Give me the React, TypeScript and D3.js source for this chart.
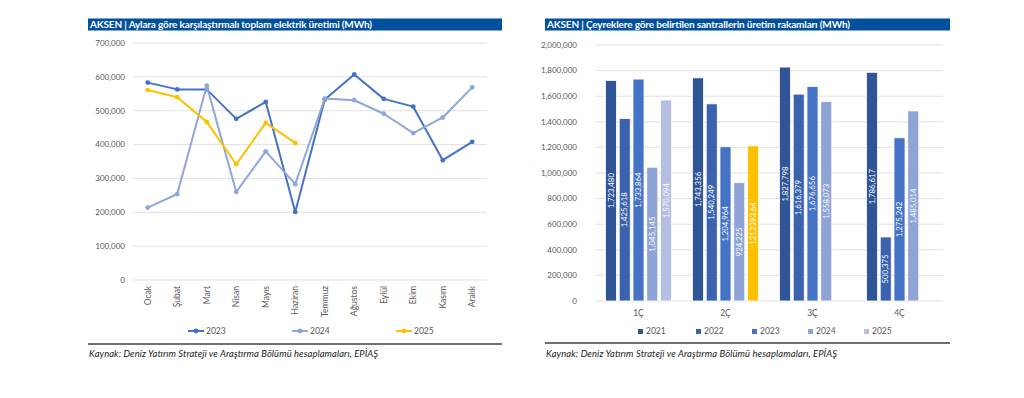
import React from 'react';
import * as d3 from 'd3';

const months = ['Ocak', 'Şubat', 'Mart', 'Nisan', 'Mayıs', 'Haziran', 'Temmuz', 'Ağustos', 'Eylül', 'Ekim', 'Kasım', 'Aralık'];
const prod2023 = [583000, 563000, 563000, 476000, 526000, 201000, 533000, 607000, 535000, 512000, 354000, 408000];
const prod2024 = [214000, 254000, 574000, 260000, 380000, 283000, 536000, 531000, 491000, 434000, 480000, 569000];
const prod2025 = [561000, 540000, 467000, 342000, 464000, 405000];
const lineYTicks = [0, 100000, 200000, 300000, 400000, 500000, 600000, 700000];

const quarters = ['1Ç', '2Ç', '3Ç', '4Ç'];
const years = ['2021', '2022', '2023', '2024', '2025'];
const q2021 = [1723480, 1743356, 1827798, 1786617];
const q2022 = [1425618, 1540249, 1616379, 500375];
const q2023 = [1733864, 1204964, 1676656, 1275242];
const q2024 = [1045145, 924225, 1558073, 1485014];
const q2025 = [1570094, 1212393.64, null, null];
const barYTicks = [0, 200000, 400000, 600000, 800000, 1000000, 1200000, 1400000, 1600000, 1800000, 2000000];
const highlight = { quarter: '2Ç', year: '2025' };

const yearColors = ['#2f5597', '#3a62ae', '#4472c4', '#8fa4d6', '#b4bfe3'];
const lineColors = { '2023': '#4472c4', '2024': '#8fa6da', '2025': '#ffc000' };
const FONT = 'Lato, "Open Sans", sans-serif';
const source = 'Kaynak: Deniz Yatırım Strateji ve Araştırma Bölümü hesaplamaları, EPİAŞ';

const fmt = d3.format(',');

const LineChart = () => {
  const x = d3.scaleBand().domain(months).range([133, 487]);
  const y = d3.scaleLinear().domain([0, 700000]).range([280, 43]);
  const cx = (m: string) => (x(m) as number) + x.bandwidth() / 2;
  const line = d3.line<number>().x((d, i) => cx(months[i])).y(d => y(d));
  const series = [
    { name: '2023', values: prod2023 },
    { name: '2024', values: prod2024 },
    { name: '2025', values: prod2025 },
  ];
  const legendX = [188, 292, 396];

  return (
    <g>
      <rect x={88} y={18.5} width={414} height={12} fill="#00509e" />
      <text x={90} y={28} fill="#fff" fontSize={10} fontWeight="bold" fontFamily={FONT} textLength={282} lengthAdjust="spacing">
        AKSEN | Aylara göre karşılaştırmalı toplam elektrik üretimi (MWh)
      </text>
      {lineYTicks.map(t => (
        <g key={t}>
          <line x1={133} x2={487} y1={y(t)} y2={y(t)} stroke="#d9d9d9" strokeWidth={0.8} />
          <text x={125} y={y(t)} dy="0.35em" textAnchor="end" fontSize={8} fill="#595959" fontFamily={FONT}>
            {fmt(t)}
          </text>
        </g>
      ))}
      {months.map(m => (
        <text
          key={m}
          transform={`translate(${cx(m)},286) rotate(-90)`}
          textAnchor="end"
          dy="0.35em"
          fontSize={8.5}
          fill="#595959"
          fontFamily={FONT}
        >
          {m}
        </text>
      ))}
      {series.map(s => (
        <g key={s.name}>
          <path d={line(s.values) as string} fill="none" stroke={lineColors[s.name]} strokeWidth={2} strokeLinejoin="round" />
          {s.values.map((v, i) => (
            <circle key={i} cx={cx(months[i])} cy={y(v)} r={2.4} fill={lineColors[s.name]} />
          ))}
        </g>
      ))}
      {series.map((s, i) => (
        <g key={s.name}>
          <line x1={legendX[i]} x2={legendX[i] + 16} y1={331} y2={331} stroke={lineColors[s.name]} strokeWidth={2} />
          <circle cx={legendX[i] + 8} cy={331} r={2.4} fill={lineColors[s.name]} />
          <text x={legendX[i] + 18} y={331} dy="0.35em" fontSize={8.5} fill="#595959" fontFamily={FONT}>
            {s.name}
          </text>
        </g>
      ))}
      <line x1={88} x2={502} y1={344} y2={344} stroke="#404040" strokeWidth={1.5} />
      <text x={89} y={357} fontSize={9.4} fontStyle="italic" fill="#1a1a1a" fontFamily={FONT} textLength={289} lengthAdjust="spacing">
        {source}
      </text>
    </g>
  );
};

const BarChart = () => {
  const x0 = d3.scaleBand().domain(quarters).range([595, 943]).paddingInner(0.24).paddingOuter(0.12);
  const x1 = d3.scaleBand().domain(years).range([0, x0.bandwidth()]).paddingInner(0.2);
  const y = d3.scaleLinear().domain([0, 2000000]).range([301, 45]);
  const byYear = [q2021, q2022, q2023, q2024, q2025];
  const label = (v: number) => (Number.isInteger(v) ? fmt(v) : String(v));
  const legendX = [638, 696, 752, 808, 864];

  return (
    <g>
      <rect x={545} y={18.5} width={405} height={12} fill="#00509e" />
      <text x={547} y={28} fill="#fff" fontSize={10} fontWeight="bold" fontFamily={FONT} textLength={303} lengthAdjust="spacing">
        AKSEN | Çeyreklere göre belirtilen santrallerin üretim rakamları (MWh)
      </text>
      {barYTicks.map(t => (
        <g key={t}>
          <line x1={595} x2={943} y1={y(t)} y2={y(t)} stroke="#d9d9d9" strokeWidth={0.8} />
          <text x={577} y={y(t)} dy="0.35em" textAnchor="end" fontSize={8} fill="#595959" fontFamily={FONT}>
            {fmt(t)}
          </text>
        </g>
      ))}
      {quarters.map((q, qi) => (
        <g key={q} transform={`translate(${x0(q)},0)`}>
          {years.map((yr, yi) => {
            const v = byYear[yi][qi];
            if (v == null) return null;
            const bx = x1(yr) as number;
            const w = x1.bandwidth();
            const isHi = q === highlight.quarter && yr === highlight.year;
            const top = y(v);
            return (
              <g key={yr}>
                <rect x={bx} y={top} width={w} height={y(0) - top} fill={isHi ? '#ffc000' : yearColors[yi]} stroke="#fff" strokeWidth={0.8} />
                <text
                  transform={`translate(${bx + w / 2},${(top + y(0)) / 2}) rotate(-90)`}
                  textAnchor="middle"
                  dy="0.35em"
                  fontSize={7.8}
                  fill="#fff"
                  fontFamily={FONT}
                >
                  {label(v)}
                </text>
              </g>
            );
          })}
          <text x={x0.bandwidth() / 2} y={313} dy="0.35em" textAnchor="middle" fontSize={8.5} fill="#595959" fontFamily={FONT}>
            {q}
          </text>
        </g>
      ))}
      {years.map((yr, i) => (
        <g key={yr}>
          <rect x={legendX[i]} y={329} width={5} height={5} fill={yearColors[i]} />
          <text x={legendX[i] + 8} y={331.5} dy="0.35em" fontSize={8.5} fill="#595959" fontFamily={FONT}>
            {yr}
          </text>
        </g>
      ))}
      <line x1={545} x2={950} y1={343} y2={343} stroke="#404040" strokeWidth={1.5} />
      <text x={546} y={357} fontSize={9.4} fontStyle="italic" fill="#1a1a1a" fontFamily={FONT} textLength={291} lengthAdjust="spacing">
        {source}
      </text>
    </g>
  );
};

export default function App() {
  return (
    <div style={{ position: 'absolute', left: 0, top: 0 }}>
      <svg width={1024} height={398} style={{ display: 'block', background: '#fff' }}>
        <LineChart />
        <BarChart />
      </svg>
    </div>
  );
}
